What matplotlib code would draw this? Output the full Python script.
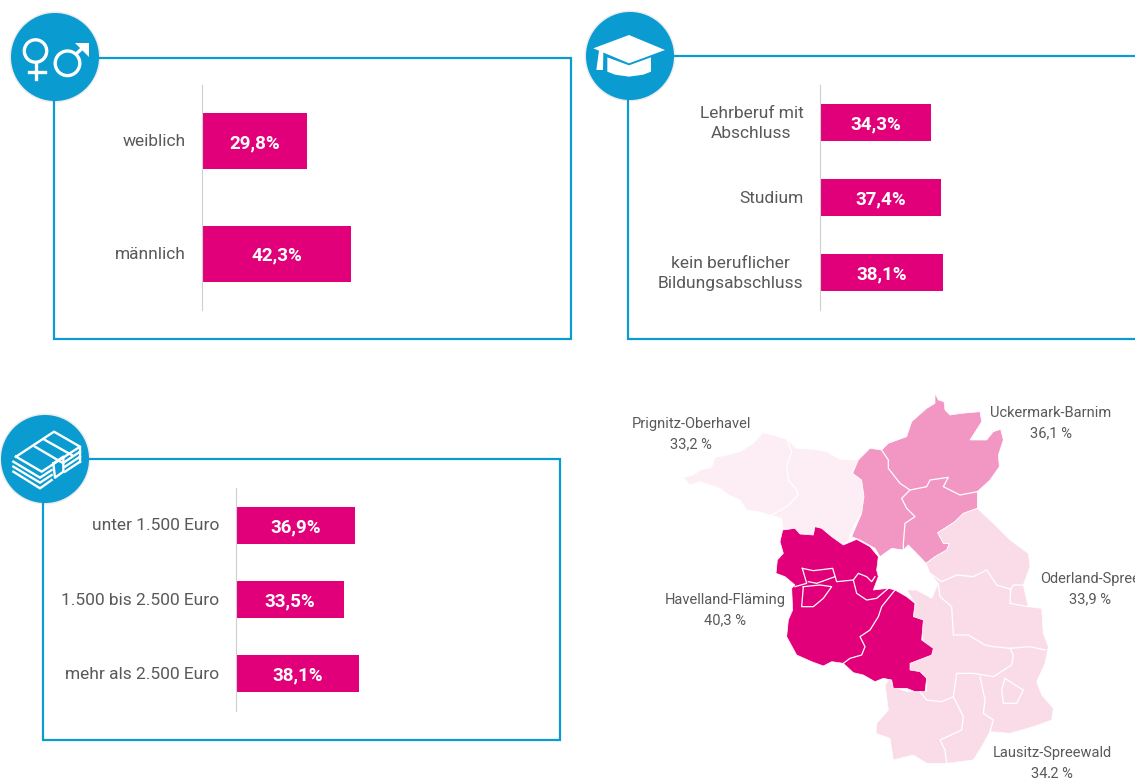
import matplotlib
matplotlib.use('Agg')
import matplotlib.pyplot as plt
from matplotlib.patches import Circle, Polygon, Rectangle
from matplotlib.transforms import ScaledTranslation

W, H = 1135, 778
plt.rcParams['font.family'] = ['Roboto', 'Liberation Sans', 'DejaVu Sans']

BLUE = '#0A9BD1'
PINK = '#E2007A'
GREY = '#595959'

# bar panels
gender_labels = ['weiblich', 'männlich']
gender_values = [29.8, 42.3]
edu_labels = ['Lehrberuf mit\nAbschluss', 'Studium', 'kein beruflicher\nBildungsabschluss']
edu_values = [34.3, 37.4, 38.1]
income_labels = ['unter 1.500 Euro', '1.500 bis 2.500 Euro', 'mehr als 2.500 Euro']
income_values = [36.9, 33.5, 38.1]

# map regions (crop coords, 3x, origin 640/380)
prignitz = [(130,293),(160,285),(180,270),(215,262),(225,232),(262,225),(300,215),(340,190),(368,158),(400,165),
            (440,178),(470,205),(520,208),(560,215),(600,238),(640,240),(655,240),(638,280),(665,300),(672,350),
            (665,400),(640,440),(625,480),(610,495),(575,470),(545,445),(525,440),(520,465),(480,462),(465,445),
            (430,450),(425,415),(390,405),(355,395),(320,390),(300,360),(265,345),(240,325),(210,315),(180,305),(150,315)]
uckermark = [(885,40),(895,60),(912,65),(915,90),(930,105),(965,100),(1020,95),(1025,125),(990,180),(1040,180),
             (1060,155),(1082,148),(1090,180),(1075,225),(1078,260),(1050,300),(1012,335),(1012,385),(970,400),
             (945,425),(893,458),(910,490),(928,490),(920,510),(885,530),(858,550),(830,520),(805,495),(790,510),
             (755,505),(720,530),(705,505),(660,480),(635,470),(665,400),(672,350),(665,300),(638,280),(655,240),
             (690,205),(725,210),(745,190),(800,170),(815,125),(860,85),(885,70)]
oderland = [(1012,385),(1060,430),(1110,480),(1165,520),(1170,560),(1150,615),(1165,680),(1205,685),(1210,760),
            (1225,800),(1215,850),(1190,905),(1205,945),(1240,985),(1235,1020),(1180,1040),(1110,1060),(1050,1055),
            (1025,1100),(1000,1140),(920,1150),(860,1150),(820,1125),(760,1140),(750,1075),(708,1060),(710,1030),
            (745,990),(735,915),(750,895),(760,920),(800,935),(860,935),(860,895),(840,875),(810,870),(810,850),
            (880,820),(850,790),(845,735),(820,710),(825,670),(800,630),(830,630),(875,655),(895,610),(870,580),
            (858,550),(885,530),(920,510),(928,490),(910,490),(893,458),(945,425),(970,400)]
havelland = [(428,450),(465,445),(480,462),(520,465),(525,440),(545,445),(575,470),(610,495),(650,478),(690,500),
             (715,530),(710,570),(715,590),(700,630),(745,625),(765,630),(800,650),(825,670),(820,710),(850,720),
             (845,780),(880,805),(875,825),(810,850),(810,870),(840,875),(860,895),(855,935),(825,935),(800,925),
             (760,925),(755,900),(730,895),(705,905),(670,885),(640,878),(610,850),(575,845),(550,858),(515,845),
             (470,825),(440,770),(445,720),(458,690),(455,625),(465,615),(435,590),(408,580),(412,540),(430,520),(420,485)]

inner_lines = [
    [(440,178),(455,215),(440,260),(445,300),(470,330),(475,345),(440,380),(395,405)],
    [(725,210),(745,240),(745,265),(780,310),(810,330),(860,320),(870,300),(925,292),(910,320),(960,345),(1012,335)],
    [(810,330),(785,355),(800,385),(825,410),(795,430),(790,490),(790,510)],
    [(487,565),(520,572),(578,565),(590,605),(640,600),(655,580),(680,590),(695,605),(705,590)],
    [(640,600),(650,640),(680,660),(710,655),(745,625)],
    [(465,620),(500,610),(487,565)],
    [(490,620),(485,680),(520,680),(550,655),(575,620),(540,615),(490,620)],
    [(505,605),(530,610),(585,590)],
    [(765,630),(725,680),(715,710),(690,750),(660,770),(675,800),(665,825),(630,835),(610,850)],
    [(870,580),(905,605),(950,585),(1000,590),(1040,570),(1070,615),(1112,628),(1120,615),(1150,615)],
    [(1112,628),(1110,670),(1165,680)],
    [(895,610),(900,650),(935,680),(940,765),(985,765),(1035,795),(1060,800),(1110,805),(1170,800),(1215,810)],
    [(1110,805),(1120,825),(1115,855),(1060,890),(1000,880),(950,880),(940,950),(905,965),(860,960),(840,935)],
    [(1020,890),(1035,960),(1030,1000),(1060,1020),(1050,1055)],
    [(940,950),(970,1010),(965,1050),(900,1080),(915,1110),(920,1150)],
    [(1095,895),(1125,915),(1150,930),(1130,970),(1090,970),(1085,930),(1095,895)],
]

map_labels = [('Prignitz-Oberhavel', '33,2 %', 691, 424),
              ('Uckermark-Barnim', '36,1 %', 1051, 413),
              ('Oderland-Spree', '33,9 %', 1090, 579),
              ('Havelland-Fläming', '40,3 %', 725, 600),
              ('Lausitz-Spreewald', '34,2 %', 1052, 753)]


def to_px(points, ox=640, oy=380):
    return [(ox + x / 3, oy + y / 3) for x, y in points]


def bar_panel(fig, labels, values, left, top, bottom, px_per_unit):
    # one axes per panel, left edge sits on the grey baseline
    width = 300
    axb = fig.add_axes([(left - 1) / W, 1 - bottom / H, width / W, (bottom - top) / H])
    y = list(range(len(values)))
    axb.barh(y, values, height=0.5, color=PINK)
    axb.set_xlim(0, width / px_per_unit)
    axb.set_ylim(len(values) - 0.5, -0.5)
    axb.set_yticks(y)
    axb.set_yticklabels(labels, fontsize=12.5, color=GREY, multialignment='center', linespacing=1.4)
    axb.tick_params(axis='y', length=0, pad=12)
    # two-line labels sit a bit high in the original
    for lbl, text in zip(axb.get_yticklabels(), labels):
        dy = 2.2 if '\n' in text else 0.7
        lbl.set_transform(lbl.get_transform() + ScaledTranslation(0, dy / 72, fig.dpi_scale_trans))
    axb.xaxis.set_visible(False)
    for side in ['top', 'right', 'bottom']:
        axb.spines[side].set_visible(False)
    axb.spines['left'].set_color('#CFCFCF')
    axb.spines['left'].set_linewidth(0.8)
    axb.patch.set_alpha(0)
    for yy, v in zip(y, values):
        axb.annotate(f'{v:.1f}%'.replace('.', ','), (v / 2, yy), xytext=(0, -1.5), textcoords='offset points',
                     color='white', fontsize=13.5, fontweight='bold', ha='center', va='center')


def badge(ax, cx, cy):
    ax.add_patch(Circle((cx, cy), 45.5, color='#808080', alpha=0.15, lw=0, zorder=4))
    ax.add_patch(Circle((cx, cy), 44, color=BLUE, lw=0, zorder=5))


fig = plt.figure(figsize=(W / 100, H / 100), dpi=100)
ax = fig.add_axes([0, 0, 1, 1])
ax.set_xlim(0, W)
ax.set_ylim(H, 0)
ax.axis('off')

# frames
for x0, y0, x1, y1 in [(54, 58, 571, 339), (628, 56, 1160, 339), (43, 459, 560, 740)]:
    ax.add_patch(Rectangle((x0, y0), x1 - x0, y1 - y0, fill=False, ec=BLUE, lw=1.6, zorder=1))

badge(ax, 55, 57)
badge(ax, 630, 56)
badge(ax, 45, 459)

# gender icon
ax.add_patch(Circle((35.5, 51), 11.2, fill=False, ec='white', lw=2.4, zorder=6))
ax.plot([35.5, 35.5], [63, 79], color='white', lw=2.4, zorder=6)
ax.plot([28.5, 45], [72, 72], color='white', lw=2.4, zorder=6)
ax.add_patch(Circle((67.5, 63.3), 12.3, fill=False, ec='white', lw=2.4, zorder=6))
ax.plot([76, 86], [54, 45], color='white', lw=2.4, zorder=6)
ax.add_patch(Polygon([(75, 43), (88.5, 43), (88.5, 57)], fc='white', ec='none', zorder=6))

# graduation cap icon
cap_top = [(55, 145), (162, 105), (270, 150), (162, 190)]
cap_base = [(97, 172), (162, 196), (228, 172), (228, 215), (205, 224), (162, 230), (120, 224), (97, 215)]
cap_tassel = [(72, 152), (85, 156), (84, 210), (64, 210)]
for shape in [cap_top, cap_base, cap_tassel]:
    ax.add_patch(Polygon(to_px(shape, 575, 0), fc='white', ec='none', zorder=6))

# money icon
money_lines = [
    [(48, 155), (162, 80), (240, 125), (125, 200), (48, 155)],
    [(105, 125), (190, 175)],
    [(135, 105), (215, 150)],
    [(40, 170), (120, 218), (155, 195)],
    [(40, 185), (120, 233), (155, 210)],
    [(40, 200), (120, 250), (155, 225)],
    [(160, 175), (190, 155), (190, 200), (165, 218), (160, 175)],
    [(195, 170), (240, 140)],
    [(195, 185), (240, 155)],
    [(195, 200), (240, 170)],
    [(240, 125), (240, 170)],
]
for line in money_lines:
    pts = to_px(line, 0, 405)
    ax.plot([p[0] for p in pts], [p[1] for p in pts], color='white', lw=1.7, zorder=6)

# bars
bar_panel(fig, gender_labels, gender_values, 203, 85, 310, 3.52)
bar_panel(fig, edu_labels, edu_values, 821, 85, 310, 3.23)
bar_panel(fig, income_labels, income_values, 237, 488, 711, 3.23)

# map
for outline, col in [(prignitz, '#FDEEF5'), (uckermark, '#F296C4'), (oderland, '#FADCE9'), (havelland, PINK)]:
    ax.add_patch(Polygon(to_px(outline), fc=col, ec='white', lw=0.5, zorder=2))
for line in inner_lines:
    pts = to_px(line)
    ax.plot([p[0] for p in pts], [p[1] for p in pts], color='white', lw=0.9, zorder=3)

for name, pct, x, y in map_labels:
    ax.text(x, y, name, color=GREY, fontsize=10.5, ha='center', va='center', zorder=7)
    ax.text(x, y + 20, pct, color=GREY, fontsize=10.5, ha='center', va='center', zorder=7)

fig.savefig('out.png', dpi=100)
